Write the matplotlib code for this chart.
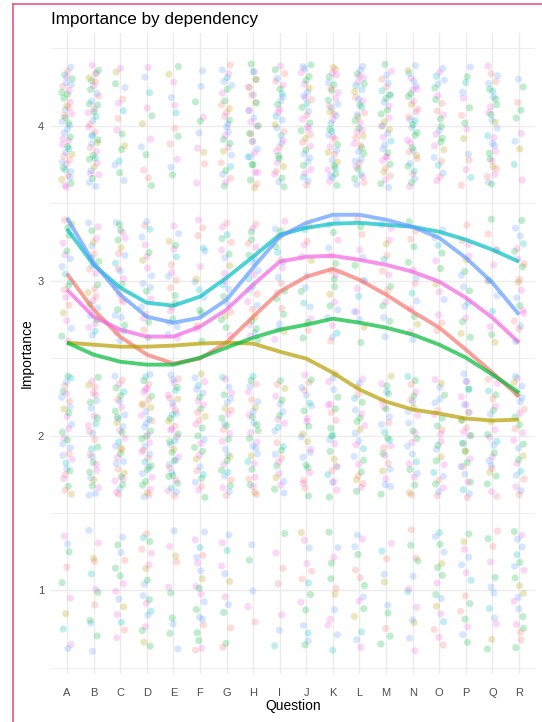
import matplotlib.pyplot as plt
import numpy as np
from matplotlib.lines import Line2D

plt.rcParams['font.family'] = ['Liberation Sans', 'DejaVu Sans']

# questions on the x axis
questions = list("ABCDEFGHIJKLMNOPQR")
levels = [1, 2, 3, 4]

# how many answers each question got at each importance level
n_level1 = [10, 12, 14, 18, 10, 20, 12, 5, 7, 14, 12, 14, 10, 12, 16, 14, 12, 20]
n_level2 = [30, 30, 35, 40, 40, 30, 30, 30, 25, 25, 25, 25, 25, 25, 25, 30, 25, 25]
n_level3 = [20, 25, 25, 20, 20, 15, 20, 25, 20, 15, 20, 15, 15, 15, 12, 15, 12, 20]
n_level4 = [45, 40, 16, 12, 12, 10, 30, 32, 32, 35, 40, 40, 35, 35, 25, 15, 30, 10]

# smoothed importance per dependency group
fit_red = [3.045, 2.813, 2.639, 2.523, 2.465, 2.497, 2.600, 2.768, 2.929,
           3.026, 3.077, 3.006, 2.910, 2.800, 2.697, 2.555, 2.406, 2.252]
fit_olive = [2.600, 2.587, 2.574, 2.574, 2.581, 2.594, 2.600, 2.594, 2.542,
             2.497, 2.406, 2.297, 2.219, 2.168, 2.142, 2.110, 2.097, 2.103]
fit_green = [2.600, 2.523, 2.477, 2.458, 2.458, 2.503, 2.568, 2.632, 2.684,
             2.716, 2.755, 2.729, 2.697, 2.652, 2.587, 2.503, 2.394, 2.277]
fit_cyan = [3.335, 3.103, 2.955, 2.858, 2.839, 2.897, 3.019, 3.155, 3.297,
            3.342, 3.368, 3.374, 3.361, 3.348, 3.316, 3.265, 3.200, 3.123]
fit_blue = [3.406, 3.116, 2.910, 2.768, 2.729, 2.761, 2.877, 3.084, 3.284,
            3.374, 3.426, 3.426, 3.394, 3.348, 3.277, 3.148, 2.987, 2.781]
fit_pink = [2.942, 2.768, 2.684, 2.639, 2.639, 2.703, 2.813, 2.974, 3.123,
            3.155, 3.161, 3.135, 3.103, 3.058, 2.994, 2.890, 2.761, 2.600]

group_colors = ['#F8766D', '#B79F00', '#00BA38', '#00BFC4', '#619CFF', '#F564E3']
fits = [fit_red, fit_olive, fit_green, fit_cyan, fit_blue, fit_pink]
# order in which the dots' colours show up
dot_groups = [4, 5, 2, 0, 3, 4, 5, 1, 2, 0, 5, 4, 2]


def halton(i, base):
    f, r = 1.0, 0.0
    while i > 0:
        f /= base
        r += f * (i % base)
        i //= base
    return r


fig = plt.figure(figsize=(5.42, 7.22), dpi=100)
ax = fig.add_axes([51 / 542, 1 - 674 / 722, (535 - 51) / 542, (674 - 33) / 722])

x_pos = np.arange(1, len(questions) + 1)

# jittered dots (even spread, no randomness)
xs, ys, cs = [], [], []
k = 0
for qi, x in enumerate(x_pos):
    for li, (lev, counts) in enumerate(zip(levels, [n_level1, n_level2, n_level3, n_level4])):
        start = 7 + qi * 53 + li * 211
        for j in range(counts[qi]):
            k += 1
            dx = (halton(start + j, 3) - 0.5) * 0.4
            dy = (halton(start + j, 2) - 0.5) * 0.8
            xs.append(x + dx)
            ys.append(lev + dy)
            cs.append(group_colors[dot_groups[(k * 5 + qi) % len(dot_groups)]])
ax.scatter(xs, ys, s=26, c=cs, alpha=0.25, linewidths=0, zorder=2)

for fit, col in zip(fits, group_colors):
    ax.plot(x_pos, fit, color=col, lw=2.8, alpha=0.7, solid_capstyle='butt', zorder=3)

ax.set_xlim(0.4, 18.6)
ax.set_ylim(0.46, 4.6)
ax.set_xticks(x_pos)
ax.set_xticklabels(questions)
ax.set_yticks(levels)
ax.set_yticks([0.5, 1.5, 2.5, 3.5, 4.5], minor=True)
ax.grid(True, which='major', color='#EBEBEB', lw=1.0, zorder=0)
ax.grid(True, which='minor', axis='y', color='#EBEBEB', lw=0.6, zorder=0)
ax.set_axisbelow(True)
for s in ax.spines.values():
    s.set_visible(False)
ax.tick_params(axis='both', which='both', length=0, labelsize=8, labelcolor='#4D4D4D')
ax.tick_params(axis='x', pad=10)
ax.tick_params(axis='y', pad=5)

ax.set_xlabel("Question", fontsize=10, labelpad=1)
ax.set_ylabel("Importance", fontsize=10, labelpad=3)
fig.text(51 / 542, 1 - 24 / 722, "Importance by dependency", fontsize=12.3,
         ha='left', va='baseline')

# pink frame on top and left
fig.add_artist(Line2D([13 / 542, 1.0], [1 - 4 / 722, 1 - 4 / 722], color='#E8587B', lw=1.2))
fig.add_artist(Line2D([13 / 542, 13 / 542], [0.0, 1 - 4 / 722], color='#E8587B', lw=1.2))

fig.savefig("out.png", dpi=100)
